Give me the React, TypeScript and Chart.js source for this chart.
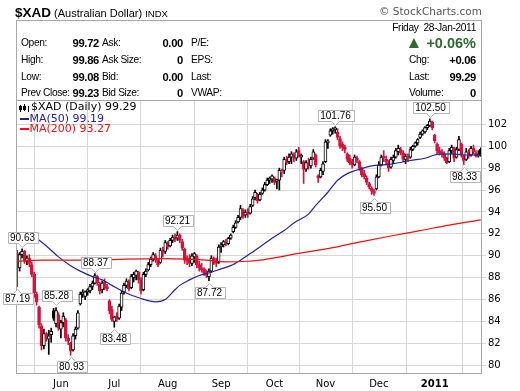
import React, { useEffect, useRef } from 'react';
import { Chart, registerables } from 'chart.js';

Chart.register(...registerables);

// ---- Daily OHLC (index 0 = 6 May 2010 ... index 191 = 28 Jan 2011) ----
const opens = [
  90.2, 88.9, 90.1, 90.4, 89.5, 89.8, 89.2, 88.3, 86.5, 85.3,
  83.6, 81.8, 82.9, 82.4, 82.8, 85.0, 83.8, 84.6, 83.3, 83.9,
  84.1, 82.5, 82.0, 81.4, 82.7, 83.4, 85.6, 86.5, 86.3, 86.7,
  86.8, 87.2, 87.5, 88.1, 87.4, 86.9, 87.6, 87.1, 85.9, 85.1,
  84.0, 84.5, 84.3, 85.3, 86.7, 87.3, 87.6, 87.1, 88.0, 88.2,
  88.5, 87.8, 86.9, 88.3, 88.7, 89.2, 89.7, 90.0, 89.6, 89.4,
  90.5, 90.4, 91.1, 90.9, 91.4, 91.7, 91.6, 91.9, 91.3, 90.6,
  89.8, 89.8, 89.3, 89.9, 90.0, 89.2, 88.9, 88.8, 88.4, 88.1,
  88.6, 89.8, 89.5, 89.4, 90.8, 91.0, 91.2, 91.1, 91.6, 92.2,
  92.6, 93.1, 93.5, 94.2, 93.7, 94.0, 93.9, 94.6, 95.3, 95.6,
  95.1, 95.7, 96.0, 96.5, 96.9, 97.0, 97.1, 96.8, 96.9, 97.6,
  97.8, 98.8, 98.6, 99.0, 99.2, 98.9, 99.6, 99.0, 98.6, 97.9,
  98.4, 98.2, 98.9, 99.2, 97.3, 97.2, 97.7, 98.6, 100.3, 101.0,
  101.4, 101.5, 101.3, 100.7, 100.2, 99.9, 99.3, 98.9, 98.6, 98.3,
  98.9, 98.6, 98.0, 97.5, 97.1, 96.6, 96.2, 95.9, 96.1, 97.2,
  98.3, 99.0, 98.8, 98.5, 98.1, 98.7, 99.0, 99.5, 99.7, 99.4,
  98.8, 99.0, 99.0, 99.7, 100.0, 100.3, 100.8, 101.1, 101.3, 101.7,
  101.9, 102.2, 101.0, 100.2, 99.6, 99.5, 99.3, 98.9, 98.6, 99.6,
  99.8, 99.0, 99.7, 100.2, 99.1, 98.8, 99.5, 99.2, 99.8, 99.4,
  99.1, 99.72,
];
const highs = [
  90.5, 90.3, 90.63, 90.5, 90.0, 90.1, 89.4, 88.5, 86.7, 85.4,
  83.8, 83.3, 83.0, 83.2, 83.4, 85.2, 85.28, 84.8, 84.1, 84.8,
  84.3, 82.8, 82.1, 82.9, 83.5, 85.0, 86.7, 86.9, 86.8, 87.0,
  87.4, 87.7, 88.37, 88.2, 87.6, 87.7, 87.9, 87.4, 86.0, 85.4,
  84.5, 84.8, 85.6, 86.8, 87.5, 87.9, 87.8, 88.3, 88.5, 88.7,
  88.6, 88.0, 88.5, 88.8, 89.4, 89.9, 90.3, 90.2, 89.7, 90.7,
  90.8, 91.4, 91.3, 91.6, 91.9, 92.0, 92.21, 92.0, 91.5, 90.7,
  90.0, 90.1, 90.2, 90.3, 90.1, 89.5, 89.3, 88.9, 88.7, 88.8,
  90.0, 89.9, 89.8, 91.0, 91.2, 91.4, 91.5, 91.7, 92.0, 92.8,
  93.2, 93.7, 94.6, 94.3, 94.2, 94.3, 94.7, 95.4, 96.0, 95.7,
  95.8, 96.2, 96.7, 97.1, 97.2, 97.4, 97.2, 97.0, 98.0, 97.9,
  99.0, 99.1, 99.3, 99.5, 99.4, 99.7, 99.9, 99.3, 98.7, 98.7,
  98.9, 99.0, 99.7, 99.3, 97.4, 98.0, 98.6, 100.6, 100.6, 101.6,
  101.7, 101.76, 101.6, 100.9, 100.4, 100.1, 99.4, 99.2, 98.8, 99.2,
  99.1, 98.7, 98.1, 97.8, 97.3, 96.7, 96.3, 96.1, 97.4, 98.6,
  99.2, 99.6, 99.1, 98.7, 99.0, 99.2, 99.8, 100.1, 99.9, 99.6,
  99.3, 99.3, 99.9, 100.1, 100.4, 100.7, 101.3, 101.5, 101.8, 102.0,
  102.5, 102.3, 101.1, 100.3, 99.9, 99.7, 99.5, 99.0, 99.8, 100.1,
  99.9, 99.9, 100.9, 100.3, 99.2, 99.8, 99.7, 100.0, 100.1, 99.6,
  99.6, 99.86,
];
const lows = [
  87.19, 88.6, 89.8, 89.3, 89.2, 89.0, 88.1, 86.2, 85.5, 83.4,
  81.4, 81.5, 82.2, 81.0, 82.1, 84.1, 83.5, 83.2, 82.5, 83.5,
  82.2, 81.9, 80.93, 81.3, 82.4, 83.3, 85.5, 86.2, 86.0, 86.4,
  86.6, 86.9, 87.4, 87.3, 86.5, 86.6, 86.9, 86.8, 84.7, 84.0,
  83.48, 84.0, 84.2, 85.0, 86.5, 87.1, 86.8, 87.0, 87.6, 87.8,
  87.5, 86.5, 86.8, 88.1, 88.6, 89.0, 89.5, 89.4, 89.0, 89.3,
  89.9, 90.2, 90.6, 90.8, 91.2, 91.3, 91.4, 91.2, 90.5, 89.3,
  89.2, 89.0, 89.1, 89.4, 88.9, 88.6, 88.5, 88.2, 88.0, 87.72,
  88.5, 89.2, 89.0, 89.3, 90.3, 90.8, 90.9, 91.0, 91.5, 92.1,
  92.5, 93.0, 93.3, 93.4, 93.5, 93.5, 93.8, 94.5, 95.1, 94.8,
  95.0, 95.6, 95.9, 96.4, 96.6, 96.7, 96.5, 96.1, 96.0, 97.2,
  97.5, 98.3, 98.4, 98.4, 98.6, 98.7, 99.0, 98.4, 96.6, 97.7,
  97.9, 98.0, 98.8, 98.1, 96.7, 97.1, 97.4, 98.5, 99.8, 100.9,
  101.1, 101.2, 100.6, 99.8, 99.6, 99.4, 98.6, 98.3, 98.0, 98.2,
  98.5, 97.8, 97.2, 97.0, 96.5, 96.1, 95.6, 95.5, 96.0, 97.1,
  98.2, 98.6, 98.3, 97.7, 98.0, 98.4, 98.9, 99.2, 99.2, 98.6,
  98.4, 98.6, 98.9, 99.6, 99.9, 100.1, 100.7, 101.0, 101.2, 101.5,
  101.8, 101.5, 100.3, 99.3, 99.2, 99.0, 98.7, 98.4, 98.5, 99.3,
  98.6, 98.9, 99.6, 99.0, 98.33, 98.7, 98.9, 99.1, 99.3, 99.0,
  99.0, 99.08,
];
const closes = [
  88.9, 90.1, 90.4, 89.5, 89.8, 89.3, 88.3, 86.6, 85.8, 83.7,
  81.8, 82.9, 82.4, 82.7, 83.1, 84.3, 85.0, 83.4, 83.9, 84.5,
  82.5, 82.2, 81.3, 82.7, 83.3, 84.8, 86.5, 86.6, 86.7, 86.8,
  87.2, 87.5, 88.2, 87.5, 86.8, 87.5, 87.1, 87.0, 85.0, 84.2,
  84.4, 84.2, 85.4, 86.6, 87.3, 87.7, 87.0, 88.1, 88.3, 88.6,
  87.8, 86.8, 88.3, 88.6, 89.2, 89.7, 90.1, 89.6, 89.2, 90.5,
  90.3, 91.2, 90.8, 91.4, 91.7, 91.5, 91.9, 91.4, 90.7, 89.6,
  89.5, 89.3, 90.0, 90.2, 89.2, 88.9, 88.7, 88.4, 88.2, 88.6,
  89.8, 89.4, 89.3, 90.8, 91.0, 91.3, 91.1, 91.6, 91.9, 92.6,
  93.0, 93.5, 94.3, 93.6, 94.0, 93.8, 94.5, 95.2, 95.8, 95.0,
  95.6, 96.0, 96.5, 96.9, 97.0, 97.3, 96.7, 96.9, 97.8, 97.7,
  98.8, 98.5, 99.0, 99.3, 98.9, 99.5, 99.1, 99.2, 97.9, 98.5,
  98.2, 98.8, 99.5, 98.3, 97.1, 97.8, 98.4, 100.4, 100.5, 101.4,
  101.5, 101.6, 100.8, 100.0, 99.9, 99.7, 98.8, 98.5, 98.3, 99.0,
  98.7, 98.0, 97.4, 97.2, 96.7, 96.3, 95.9, 95.7, 97.2, 98.3,
  99.0, 98.9, 98.6, 98.0, 98.8, 99.0, 99.6, 99.8, 99.4, 98.8,
  99.1, 98.9, 99.7, 100.0, 100.3, 100.6, 101.1, 101.4, 101.7, 101.9,
  102.3, 101.7, 100.5, 99.6, 99.4, 99.3, 98.9, 98.5, 99.6, 99.9,
  98.9, 99.7, 100.6, 99.2, 98.7, 99.5, 99.1, 99.8, 99.5, 99.1,
  99.23, 99.29,
];

// ---- moving averages (day index, value) ----
const ma50Days = [8, 12, 17, 22, 26, 31, 35, 39, 44, 51, 57, 61, 65, 67, 71, 75, 80, 84, 88, 92, 96, 100, 105, 110, 114, 120, 123, 128, 132, 136, 142, 146, 151, 155, 162, 168, 172, 179, 184, 191];
const ma50Values = [91.6, 90.9, 89.9, 89.1, 88.6, 88.1, 87.8, 87.3, 86.7, 86.1, 85.8, 86.0, 86.9, 87.3, 87.8, 88.2, 88.5, 88.8, 89.1, 89.6, 90.2, 90.8, 91.6, 92.3, 93.0, 93.8, 94.6, 95.8, 96.9, 97.5, 97.97, 98.2, 98.3, 98.4, 98.7, 98.9, 99.2, 99.3, 99.2, 99.19];
const ma200Days = [0, 10, 30, 45, 60, 70, 78, 85, 95, 100, 107, 114, 128, 142, 155, 166, 178, 191];
const ma200Values = [89.5, 89.6, 89.6, 89.7, 89.75, 89.7, 89.6, 89.45, 89.5, 89.6, 89.85, 90.15, 90.65, 91.3, 91.85, 92.3, 92.8, 93.27];

// ---- axis ticks ----
const monthTickDays = [18, 40, 62, 84, 106, 127, 149, 172];
const monthTickLabels = ['Jun', 'Jul', 'Aug', 'Sep', 'Oct', 'Nov', 'Dec', '2011'];
const priceTicks = [80, 82, 84, 86, 88, 90, 92, 94, 96, 98, 100, 102];

// ---- annotated highs / lows ----
const markDays = [2, 0, 16, 22, 32, 40, 66, 79, 131, 147, 170, 184];
const markSides = ['high', 'low', 'high', 'low', 'high', 'low', 'high', 'low', 'high', 'low', 'high', 'low'];

const RED = '#d3143c';
const BLACK = '#000000';
const NAVY = '#24249a';
const MA_RED = '#ee1111';
const GRID = '#d6d6d6';
const FRAME = '#a8a8a8';

export default function App() {
  const ref = useRef<HTMLCanvasElement>(null);

  useEffect(() => {
    const canvas = ref.current;
    if (!canvas) return;
    const idx = closes.map((_, i) => i);
    const colors = idx.map((i) => (i > 0 && closes[i] >= closes[i - 1] ? BLACK : RED));
    const fills = idx.map((i) => (closes[i] > opens[i] ? '#ffffff' : colors[i]));

    const overlay = {
      id: 'overlay',
      afterDatasetsDraw(chart: any) {
        const { ctx, chartArea: a, scales } = chart;
        const xs = scales.x;
        const ys = scales.y;
        ctx.save();
        // frame
        ctx.strokeStyle = FRAME;
        ctx.lineWidth = 1;
        ctx.strokeRect(Math.round(a.left) + 0.5, Math.round(a.top) + 0.5, Math.round(a.right - a.left) - 1, Math.round(a.bottom - a.top) - 1);

        // legend
        ctx.textBaseline = 'middle';
        ctx.font = '11px "DejaVu Sans"';
        const lx = a.left + 4;
        ctx.fillStyle = BLACK;
        ctx.fillRect(lx, a.top + 5, 1, 7);
        ctx.fillRect(lx - 1, a.top + 6, 3, 4);
        ctx.fillRect(lx + 4, a.top + 4, 1, 7);
        ctx.strokeStyle = BLACK;
        ctx.strokeRect(lx + 3.5, a.top + 6.5, 2, 3);
        ctx.fillRect(lx + 8, a.top + 6, 1, 6);
        ctx.fillText('$XAD (Daily) 99.29', lx + 11, a.top + 7.5);
        ctx.fillStyle = NAVY;
        ctx.fillRect(lx, a.top + 18, 9, 2);
        ctx.fillText('MA(50) 99.19', lx + 9.5, a.top + 19);
        ctx.fillStyle = MA_RED;
        ctx.fillRect(lx, a.top + 28, 9, 2);
        ctx.fillText('MA(200) 93.27', lx + 9.5, a.top + 29.5);

        // high / low callouts
        ctx.font = '10px "Liberation Sans"';
        markDays.forEach((d, k) => {
          const isHigh = markSides[k] === 'high';
          const v = isHigh ? highs[d] : lows[d];
          const text = v.toFixed(2);
          const cx = Math.round(xs.getPixelForValue(d)) + 0.5;
          const py = ys.getPixelForValue(v);
          const tw = ctx.measureText(text).width;
          const w = Math.round(tw + 5);
          const h = 11;
          const left = Math.round(cx - w / 2) + 0.5;
          const top = isHigh ? Math.round(py - 6 - h) + 0.5 : Math.round(py + 6) + 0.5;
          ctx.beginPath();
          if (isHigh) {
            ctx.moveTo(left, top);
            ctx.lineTo(left + w, top);
            ctx.lineTo(left + w, top + h);
            ctx.lineTo(cx + 4, top + h);
            ctx.lineTo(cx, top + h + 4);
            ctx.lineTo(cx - 4, top + h);
            ctx.lineTo(left, top + h);
            ctx.closePath();
          } else {
            ctx.moveTo(left, top);
            ctx.lineTo(cx - 4, top);
            ctx.lineTo(cx, top - 4);
            ctx.lineTo(cx + 4, top);
            ctx.lineTo(left + w, top);
            ctx.lineTo(left + w, top + h);
            ctx.lineTo(left, top + h);
            ctx.closePath();
          }
          ctx.fillStyle = '#ffffff';
          ctx.fill();
          ctx.strokeStyle = '#b4b4b4';
          ctx.stroke();
          ctx.fillStyle = '#000000';
          ctx.textAlign = 'center';
          ctx.fillText(text, cx, top + h / 2 + 0.5);
        });
        ctx.restore();
      },
    };

    const chart = new Chart(canvas, {
      type: 'bar',
      data: {
        datasets: [
          {
            type: 'line',
            label: 'MA(200)',
            data: ma200Days.map((d, i) => ({ x: d, y: ma200Values[i] })),
            borderColor: MA_RED,
            borderWidth: 1.2,
            pointRadius: 0,
            cubicInterpolationMode: 'monotone',
            order: 0,
          } as any,
          {
            type: 'line',
            label: 'MA(50)',
            data: ma50Days.map((d, i) => ({ x: d, y: ma50Values[i] })),
            borderColor: NAVY,
            borderWidth: 1.2,
            pointRadius: 0,
            cubicInterpolationMode: 'monotone',
            order: 0,
          } as any,
          {
            type: 'bar',
            label: 'body',
            data: idx.map((i) => ({ x: i, y: [Math.min(opens[i], closes[i]), Math.max(opens[i], closes[i])] })),
            backgroundColor: fills,
            borderColor: colors,
            borderWidth: 1,
            borderSkipped: false,
            barThickness: 3,
            minBarLength: 2,
            grouped: false,
            order: 1,
          } as any,
          {
            type: 'bar',
            label: 'wick',
            data: idx.map((i) => ({ x: i, y: [lows[i], highs[i]] })),
            backgroundColor: colors,
            borderWidth: 0,
            barThickness: 1,
            grouped: false,
            order: 2,
          } as any,
        ],
      },
      options: {
        responsive: false,
        animation: false,
        devicePixelRatio: 1,
        layout: { padding: { left: 16, top: 100, right: 0, bottom: 0 } },
        plugins: { legend: { display: false }, tooltip: { enabled: false } },
        scales: {
          x: {
            type: 'linear',
            min: -0.5,
            max: 191.5,
            offset: false,
            grid: { color: GRID, drawTicks: false },
            border: { display: false },
            afterBuildTicks: (s: any) => {
              s.ticks = monthTickDays.map((v) => ({ value: v }));
            },
            afterFit: (s: any) => {
              s.height = 17;
            },
            ticks: {
              autoSkip: false,
              maxRotation: 0,
              padding: 4,
              color: '#000',
              font: (c: any) => ({ family: 'DejaVu Sans', size: 10, weight: c.tick && c.tick.value === 172 ? 'bold' : 'normal' }),
              callback: (v: any) => {
                const k = monthTickDays.indexOf(Number(v));
                return k >= 0 ? monthTickLabels[k] : '';
              },
            },
          },
          y: {
            type: 'linear',
            position: 'right',
            min: 79.21,
            max: 104.22,
            grid: { color: GRID, tickLength: 4 },
            border: { display: false },
            afterBuildTicks: (s: any) => {
              s.ticks = priceTicks.map((v) => ({ value: v }));
            },
            afterFit: (s: any) => {
              s.width = 38;
            },
            ticks: {
              padding: 2,
              color: '#000',
              font: { family: 'DejaVu Sans', size: 10 },
              callback: (v: any) => String(v),
            },
          },
        },
      },
      plugins: [overlay],
    } as any);
    return () => chart.destroy();
  }, []);

  const base: React.CSSProperties = { position: 'absolute', fontFamily: '"Liberation Sans", Arial, sans-serif', whiteSpace: 'nowrap', lineHeight: '14px', fontSize: '10.2px', letterSpacing: '-0.35px', color: '#000' };
  const val: React.CSSProperties = { fontWeight: 'bold', fontSize: '11.2px', letterSpacing: '-0.3px' };
  const rowTops = [36, 53, 70, 86];
  const leftLabels = ['Open:', 'High:', 'Low:', 'Prev Close:'];
  const leftValues = ['99.72', '99.86', '99.08', '99.23'];
  const midLabels = ['Ask:', 'Ask Size:', 'Bid:', 'Bid Size:'];
  const midValues = ['0.00', '0', '0.00', '0'];
  const rightLabels = ['P/E:', 'EPS:', 'Last:', 'VWAP:'];
  const farLabels = ['Chg:', 'Last:', 'Volume:'];
  const farValues = ['+0.06', '99.29', '0'];

  return (
    <div style={{ position: 'fixed', left: 0, top: 0, width: 520, height: 391, background: '#fff', overflow: 'hidden' }}>
      <canvas ref={ref} width={520} height={391} style={{ position: 'absolute', left: 0, top: 0, width: 520, height: 391 }} />
      <div style={{ position: 'absolute', left: 16, top: 20, width: 464, height: 80, border: '1px solid ' + FRAME, borderBottom: 'none' }} />
      <div style={{ ...base, left: 15, top: 5, lineHeight: '16px', letterSpacing: '0px' }}>
        <span style={{ fontWeight: 'bold', fontSize: '13.5px' }}>$XAD</span>
        <span style={{ fontSize: '11px' }}> (Australian Dollar) </span>
        <span style={{ fontSize: '9.5px' }}>INDX</span>
      </div>
      <div style={{ ...base, right: 38, top: 4, color: '#555', fontSize: '10.5px', letterSpacing: '0px', fontFamily: '"DejaVu Sans", sans-serif', lineHeight: '14px' }}>© StockCharts.com</div>
      {rowTops.map((t, i) => (
        <React.Fragment key={i}>
          <div style={{ ...base, left: 21, top: t }}>{leftLabels[i]}</div>
          <div style={{ ...base, ...val, left: 40, width: 59, top: t, textAlign: 'right' }}>{leftValues[i]}</div>
          <div style={{ ...base, left: 102, top: t }}>{midLabels[i]}</div>
          <div style={{ ...base, ...val, left: 140, width: 43, top: t, textAlign: 'right' }}>{midValues[i]}</div>
          <div style={{ ...base, left: 191, top: t }}>{rightLabels[i]}</div>
        </React.Fragment>
      ))}
      <div style={{ ...base, right: 44, top: 21 }}>Friday&nbsp;&nbsp;28-Jan-2011</div>
      <div style={{ ...base, right: 44, top: 35, color: '#2f6a2f', fontWeight: 'bold', fontSize: '14.5px', letterSpacing: '0px', lineHeight: '16px' }}>
        <span style={{ fontSize: '17px' }}>▲</span> +0.06%
      </div>
      {farLabels.map((l, i) => (
        <React.Fragment key={'f' + i}>
          <div style={{ ...base, left: 409, top: rowTops[i + 1] }}>{l}</div>
          <div style={{ ...base, ...val, right: 44, top: rowTops[i + 1] }}>{farValues[i]}</div>
        </React.Fragment>
      ))}
    </div>
  );
}
